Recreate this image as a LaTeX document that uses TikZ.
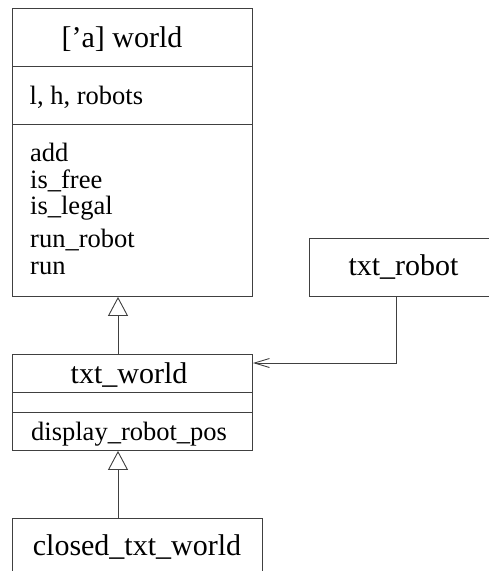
\documentclass[tikz,border=0pt]{standalone}
\usepackage{fontspec}
\setmainfont{Liberation Serif}
\usetikzlibrary{arrows.meta}

\tikzset{
  classbox/.style={draw=black!75, line width=0.9pt, rectangle, inner sep=0pt, anchor=north west},
  divider/.style={draw=black!75, line width=0.9pt},
  classname/.style={anchor=base, inner sep=0pt, font=\fontsize{30}{36}\selectfont},
  member/.style={anchor=base west, inner sep=0pt, font=\fontsize{26.5}{30}\selectfont},
  inherit/.style={draw=black!75, line width=0.9pt,
    -{Triangle[open, length=19pt, width=20pt, line width=0.9pt]}},
  assoc/.style={draw=black!75, line width=0.9pt,
    -{Straight Barb[length=15pt, width=9pt, line width=0.9pt]}}
}

\begin{document}
\begin{tikzpicture}[x=1pt, y=-1pt]
  \useasboundingbox (0,0) rectangle (489,571);
  \clip (0,0) rectangle (489,571);

  % generic world class
  \node[classbox, minimum width=240pt, minimum height=288pt] (world) at (12,8) {};
  \draw[divider] (world.west |- 0,66) -- (world.east |- 0,66);
  \draw[divider] (world.west |- 0,124) -- (world.east |- 0,124);
  \node[classname] (worldname) at (122,47.7) {['a] world};
  \node[member] (wattr) at (29.5,104) {l, h, robots};
  \node[member] (madd) at (30,161.7) {add};
  \node[member] (mfree) at (30,188) {is\_free};
  \node[member] (mlegal) at (30,214.5) {is\_legal};
  \node[member] (mrunrobot) at (30,247.5) {run\_robot};
  \node[member] (mrun) at (30,274) {run};

  % robot class (extends past the right edge)
  \node[classbox, minimum width=189pt, minimum height=58pt] (robot) at (309,238) {};
  \node[classname] (robotname) at (403.5,275.7) {txt\_robot};

  % text world class
  \node[classbox, minimum width=240pt, minimum height=96pt] (txtworld) at (12,354) {};
  \draw[divider] (txtworld.west |- 0,392) -- (txtworld.east |- 0,392);
  \draw[divider] (txtworld.west |- 0,412) -- (txtworld.east |- 0,412);
  \node[classname] (txtworldname) at (129,383) {txt\_world};
  \node[member] (mdisplay) at (31,440) {display\_robot\_pos};

  % closed text world class (extends past the bottom edge)
  \node[classbox, minimum width=250pt, minimum height=80pt] (closed) at (12,518) {};
  \node[classname] (closedname) at (137,555) {closed\_txt\_world};

  % inheritance
  \draw[inherit] (txtworld.north -| 118,0) -- (world.south -| 118,0);
  \draw[inherit] (closed.north -| 118,0) -- (txtworld.south -| 118,0);

  % association
  \draw[assoc] (robot.south -| 396,0) |- (txtworld.east |- 0,363);
\end{tikzpicture}
\end{document}
